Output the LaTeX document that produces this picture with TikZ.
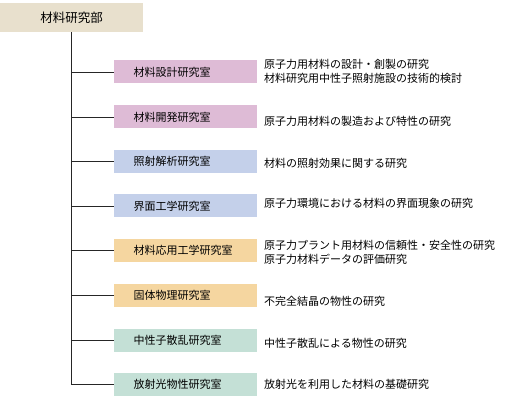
\documentclass[tikz,border=0pt]{standalone}
\usepackage{fontspec}
\setmainfont{Noto Sans CJK JP}
\usetikzlibrary{positioning}

\definecolor{deptbeige}{HTML}{E8E0CD}
\definecolor{roompink}{HTML}{DEBBD6}
\definecolor{roomblue}{HTML}{C4D0EA}
\definecolor{roomtan}{HTML}{F5D6A0}
\definecolor{roommint}{HTML}{C4E0D6}

\begin{document}
\begin{tikzpicture}[x=1pt, y=-1pt,
    room/.style={anchor=west, minimum height=23pt, text width=104pt, inner xsep=19.5pt, inner ysep=0pt, align=left, font=\fontsize{11}{13}\selectfont},
    desc/.style={anchor=west, inner sep=0pt, align=left, font=\fontsize{11}{13.5}\selectfont},
    branch/.style={line width=0.8pt, black!85}]
        \useasboundingbox (0,0) rectangle (509,414);

        % 材料研究部
        \node[fill=deptbeige, minimum width=143pt, minimum height=29pt, inner sep=0pt, font=\fontsize{12.5}{14}\selectfont] (dept) at (71.5,17.5) {材料研究部};

        % 研究室
        \node[room, fill=roompink] (r1) at (114,72)    {材料設計研究室};
        \node[room, fill=roompink] (r2) at (114,117)   {材料開発研究室};
        \node[room, fill=roomblue] (r3) at (114,161.5) {照射解析研究室};
        \node[room, fill=roomblue] (r4) at (114,206)   {界面工学研究室};
        \node[room, fill=roomtan]  (r5) at (114,250.5) {材料応用工学研究室};
        \node[room, fill=roomtan]  (r6) at (114,295.5) {固体物理研究室};
        \node[room, fill=roommint] (r7) at (114,340)   {中性子散乱研究室};
        \node[room, fill=roommint] (r8) at (114,384.5) {放射光物性研究室};

        % 研究内容
        \node[desc] (d1) at (264,71.5) {原子力用材料の設計・創製の研究\\材料研究用中性子照射施設の技術的検討};
        \node[desc] (d2) at (264,121)  {原子力用材料の製造および特性の研究};
        \node[desc] (d3) at (264,163)  {材料の照射効果に関する研究};
        \node[desc] (d4) at (264,203)  {原子力環境における材料の界面現象の研究};
        \node[desc] (d5) at (264,252.5) {原子力プラント用材料の信頼性・安全性の研究\\原子力材料データの評価研究};
        \node[desc] (d6) at (264,301)  {不完全結晶の物性の研究};
        \node[desc] (d7) at (264,343)  {中性子散乱による物性の研究};
        \node[desc] (d8) at (264,384)  {放射光を利用した材料の基礎研究};

        % 接続線
        \draw[branch] (dept.south) -- (dept.south |- r8.west);
        \foreach \i in {1,...,8} \draw[branch] (r\i.west -| dept.south) -- (r\i.west);
\end{tikzpicture}
\end{document}
